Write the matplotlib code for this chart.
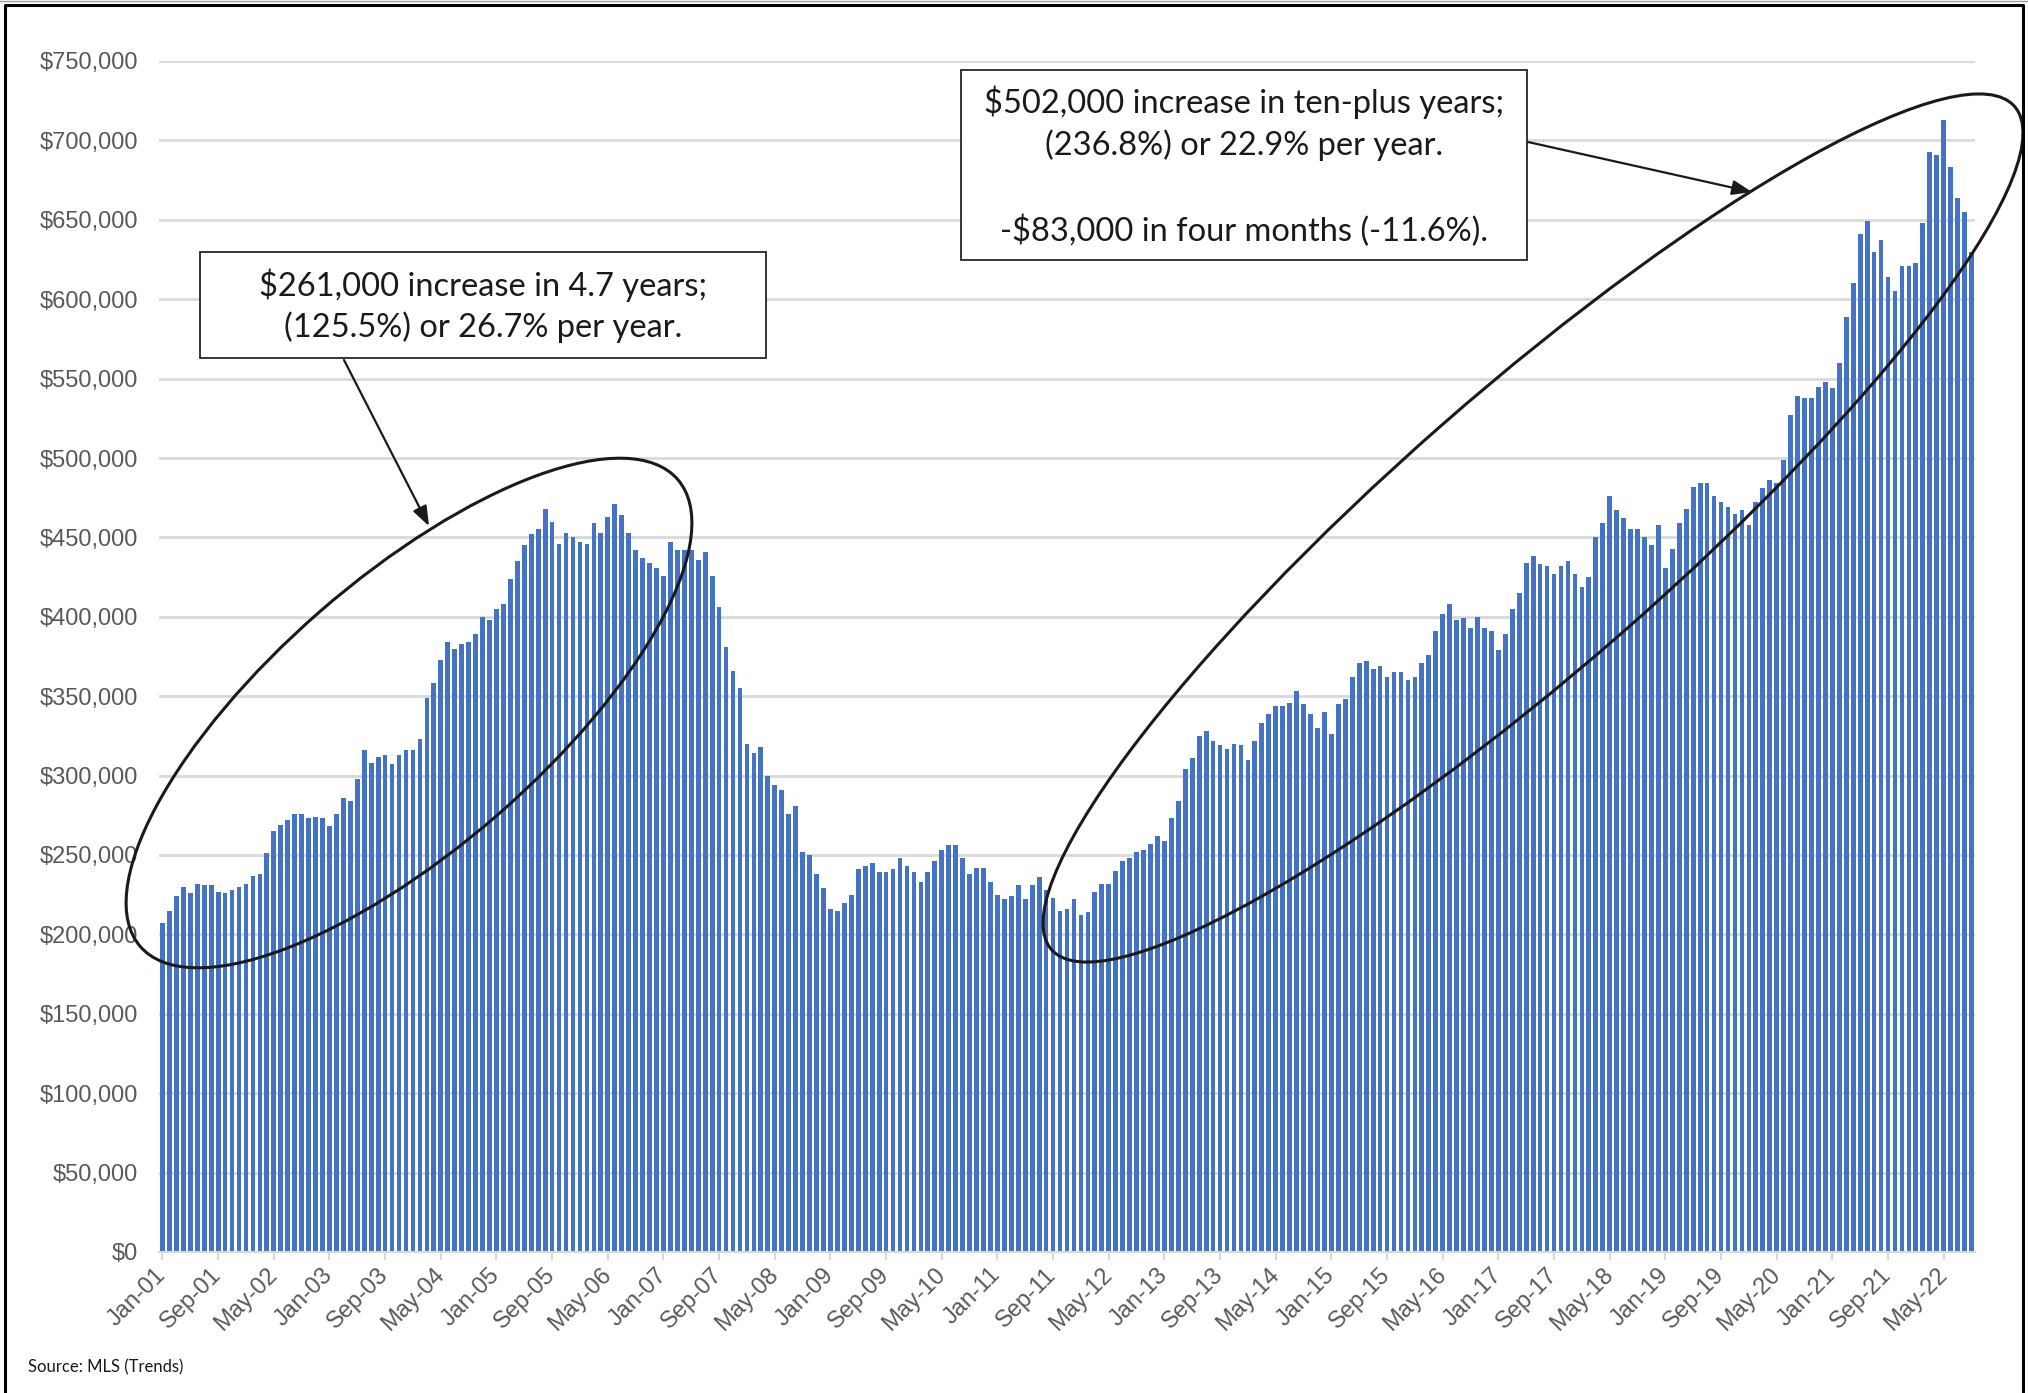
import matplotlib
matplotlib.use("Agg")
import matplotlib.pyplot as plt
from matplotlib.patches import Ellipse, Rectangle
from matplotlib.ticker import FuncFormatter
import numpy as np

### --- Data (median price, $ thousands, monthly Jan-01 .. Sep-22) ---
prices_k = [
    207, 215, 224, 230, 226, 232, 231, 231, 227, 226, 228, 230,   # 2001
    232, 237, 238, 251, 265, 269, 272, 276, 276, 273, 274, 273,   # 2002
    268, 276, 286, 284, 298, 316, 308, 312, 313, 307, 313, 316,   # 2003
    316, 323, 349, 358, 373, 384, 380, 383, 384, 389, 400, 398,   # 2004
    405, 408, 424, 435, 445, 452, 455, 468, 460, 446, 453, 450,   # 2005
    447, 446, 459, 453, 463, 471, 464, 453, 442, 437, 434, 431,   # 2006
    426, 447, 442, 442, 442, 436, 441, 426, 406, 381, 366, 355,   # 2007
    320, 314, 318, 300, 294, 291, 276, 281, 252, 250, 238, 229,   # 2008
    216, 215, 220, 225, 241, 243, 245, 239, 239, 241, 248, 243,   # 2009
    239, 233, 239, 246, 253, 256, 256, 248, 238, 242, 242, 233,   # 2010
    225, 222, 224, 231, 222, 231, 236, 228, 223, 215, 216, 222,   # 2011
    212, 214, 227, 232, 232, 240, 246, 248, 252, 253, 257, 262,   # 2012
    259, 273, 284, 304, 311, 325, 328, 322, 319, 317, 320, 319,   # 2013
    310, 322, 333, 339, 344, 344, 346, 353, 345, 339, 330, 340,   # 2014
    326, 345, 348, 362, 371, 372, 367, 369, 362, 365, 365, 360,   # 2015
    362, 371, 376, 391, 402, 408, 398, 399, 393, 400, 393, 391,   # 2016
    379, 389, 405, 415, 434, 438, 433, 432, 427, 432, 435, 427,   # 2017
    419, 425, 450, 459, 476, 467, 462, 455, 455, 450, 445, 458,   # 2018
    431, 443, 459, 468, 482, 484, 484, 476, 472, 469, 465, 467,   # 2019
    458, 472, 481, 486, 484, 499, 527, 539, 538, 538, 545, 548,   # 2020
    544, 560, 589, 610, 641, 649, 630, 637, 614, 605, 621, 621,   # 2021
    623, 648, 693, 691, 713, 683, 664, 655, 630,                  # 2022
]

tick_labels = [
    'Jan-01', 'Sep-01', 'May-02', 'Jan-03', 'Sep-03', 'May-04', 'Jan-05',
    'Sep-05', 'May-06', 'Jan-07', 'Sep-07', 'May-08', 'Jan-09', 'Sep-09',
    'May-10', 'Jan-11', 'Sep-11', 'May-12', 'Jan-13', 'Sep-13', 'May-14',
    'Jan-15', 'Sep-15', 'May-16', 'Jan-17', 'Sep-17', 'May-18', 'Jan-19',
    'Sep-19', 'May-20', 'Jan-21', 'Sep-21', 'May-22',
]

note_left = ['$261,000 increase in 4.7 years;', '(125.5%) or 26.7% per year.']
note_right = ['$502,000 increase in ten-plus years;', '(236.8%) or 22.9% per year.',
              '', '-$83,000 in four months (-11.6%).']
source = 'Source: MLS (Trends)'

### --- Figure ---
W, H = 2028, 1393
fig = plt.figure(figsize=(W / 100, H / 100), dpi=100)
ax = fig.add_axes([159 / W, (H - 1252) / H, (1975 - 159) / W, (1252 - 61) / H])

x = np.arange(len(prices_k))
ax.bar(x, np.array(prices_k) * 1000, width=0.68, color='#4472C4', edgecolor='none', zorder=2)

ax.set_xlim(-0.5, len(prices_k) - 0.5)
ax.set_ylim(0, 750000)
ax.set_yticks(np.arange(0, 750001, 50000))
ax.yaxis.set_major_formatter(FuncFormatter(lambda v, p: f'${v:,.0f}'))
ax.grid(axis='y', color='#D9D9D9', linewidth=2, zorder=0)
ax.set_axisbelow(True)

ax.set_xticks(np.arange(0, len(prices_k), 8))
ax.set_xticklabels(tick_labels, rotation=45, ha='right', va='center', rotation_mode='anchor')

for s in ['top', 'right', 'left']:
    ax.spines[s].set_visible(False)
ax.spines['bottom'].set_color('#D9D9D9')
ax.spines['bottom'].set_linewidth(1.5)
ax.tick_params(axis='y', length=0, pad=15, labelsize=17, labelcolor='#595959')
ax.tick_params(axis='x', length=6, width=1.5, color='#D9D9D9', pad=8,
               labelsize=17, labelcolor='#595959')
for lab in ax.get_xticklabels() + ax.get_yticklabels():
    lab.set_family('Liberation Sans')

### --- Annotation overlay in pixel space ---
ov = fig.add_axes([0, 0, 1, 1], zorder=5)
ov.set_xlim(0, W)
ov.set_ylim(H, 0)
ov.axis('off')
ov.patch.set_alpha(0)

# frame around the picture
ov.plot([5, 5, 2023, 2023], [H + 5, 5, 5, H + 5], color='black', lw=2.2, clip_on=False)
ov.plot([0, W], [1, 1], color='#9a9a9a', lw=1)

ov.add_patch(Ellipse((409, 713), 712, 270, angle=-41, fill=False, ec='#1a1a1a', lw=2.2))
ov.add_patch(Ellipse((1533, 528), 1280, 275, angle=-41.2, fill=False, ec='#1a1a1a', lw=2.2))

txt_font = 'Lato'
ov.add_patch(Rectangle((200, 252), 566, 106, fc='white', ec='#262626', lw=1.3))
for i, line in enumerate(note_left):
    ov.text(483, 285 + i * 42, line, ha='center', va='center', fontsize=23.5,
            family=txt_font, color='#1a1a1a')

ov.add_patch(Rectangle((961, 70), 566, 190, fc='white', ec='#262626', lw=1.3))
for i, line in enumerate(note_right):
    ov.text(1244, 102 + i * 43, line, ha='center', va='center', fontsize=23.5,
            family=txt_font, color='#1a1a1a')

arrow = dict(arrowstyle='-|>,head_length=1.2,head_width=0.45', color='#1a1a1a', lw=1.6,
             shrinkA=0, shrinkB=0)
ov.annotate('', xy=(429, 526), xytext=(344, 360), arrowprops=arrow)
ov.annotate('', xy=(1752, 192), xytext=(1528, 142), arrowprops=arrow)

ov.text(28, 1367, source, ha='left', va='center', fontsize=12, family=txt_font, color='#1a1a1a')

fig.savefig('out.png', dpi=100)
